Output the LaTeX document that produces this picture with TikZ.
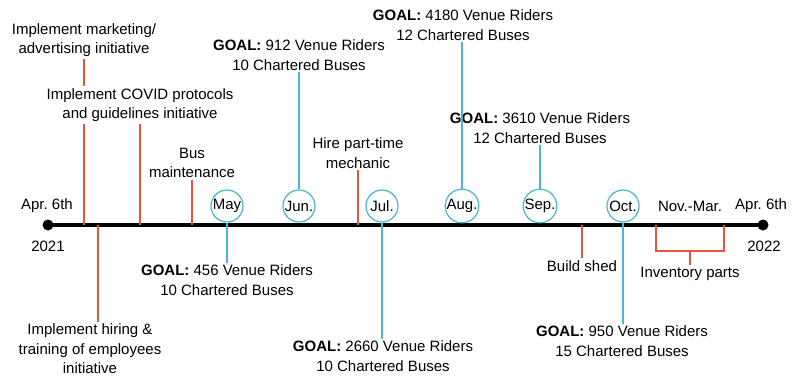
\documentclass[tikz,border=0pt]{standalone}
\usepackage{fontspec}
\setmainfont{Liberation Sans}
\usetikzlibrary{calc}
\definecolor{tlorange}{RGB}{230,84,58}
\definecolor{tlblue}{RGB}{72,183,214}
\newcommand{\goalnote}[2]{\textbf{GOAL:} #1 Venue Riders\\#2 Chartered Buses}

\begin{document}
\begin{tikzpicture}[x=1pt,y=-1pt,
    every node/.style={font=\fontsize{15}{19.5}\selectfont, align=center, inner sep=2pt},
    month/.style={circle, draw=tlblue, fill=white, line width=1.2pt, minimum size=32pt, inner sep=0pt},
    orangeline/.style={draw=tlorange, line width=1.6pt},
    blueline/.style={draw=tlblue, line width=1.2pt}]
  \useasboundingbox (0,0) rectangle (799,377);

  \coordinate (a0) at (48,225);
  \coordinate (a1) at (763,225);
  \draw[line width=3.4pt] (a0) -- (a1);
  \fill (a0) circle (5.5pt);
  \fill (a1) circle (5.5pt);

  \node (start) at (47,206) {Apr.\ 6th};
  \node (y21) at (48,246) {2021};
  \node (nm) at (690,206) {Nov.-Mar.};
  \node (end) at (761,206) {Apr.\ 6th};
  \node (y22) at (764,246) {2022};

  % months
  \node[month] (may) at (227,206) {May};
  \node[month] (jun) at (299,206) {Jun.};
  \node[month] (jul) at (382,206) {Jul.};
  \node[month] (aug) at (462,206) {Aug.};
  \node[month] (sep) at (540,206) {Sep.};
  \node[month] (oct) at (623,206) {Oct.};

  % goals
  \node (g456) at (227,280) {\goalnote{456}{10}};
  \node (g912) at (299,55) {\goalnote{912}{10}};
  \node (g2660) at (383,356) {\goalnote{2660}{10}};
  \node (g4180) at (463,25) {\goalnote{4180}{12}};
  \node (g3610) at (540,128) {\goalnote{3610}{12}};
  \node (g950) at (622,341) {\goalnote{950}{15}};

  \draw[blueline] (may.south) -- (may.south |- g456.north);
  \draw[blueline] (jun.north) -- (jun.north |- g912.south);
  \draw[blueline] (jul.south) -- (jul.south |- g2660.north);
  \draw[blueline] (aug.north) -- (aug.north |- g4180.south);
  \draw[blueline] (sep.north) -- (sep.north |- g3610.south);
  \draw[blueline] (oct.south) -- (oct.south |- g950.north);

  % tasks
  \node (mkt) at (84,40) {Implement marketing/\\advertising initiative};
  \node (covid) at (140,105) {Implement COVID protocols\\and guidelines initiative};
  \node (bus) at (192,163) {Bus\\maintenance};
  \node (mech) at (358,153) {Hire part-time\\mechanic};
  \node (hire) at (90,349) {Implement hiring \&\\training of employees\\initiative};
  \node (shed) at (582,266) {Build shed};
  \node (inv) at (690,274) {Inventory parts};

  \draw[orangeline] (mkt.south) -- (mkt.south |- covid.north);
  \draw[orangeline] (mkt.south |- covid.south) -- (mkt.south |- a0);
  \draw[orangeline] (covid.south) -- (covid.south |- a0);
  \draw[orangeline] (bus.south) -- (bus.south |- a0);
  \draw[orangeline] (mech.south) -- (mech.south |- a0);

  \coordinate (h) at (98,225);
  \draw[orangeline] (h) -- (h |- hire.north);
  \draw[orangeline] (shed.north |- a0) -- (shed.north);

  \coordinate (i0) at (656,225);
  \coordinate (i1) at (724,225);
  \coordinate (ib) at ($(i0)!0.5!(i1)+(0,26)$);
  \draw[orangeline] (i0) -- (i0 |- ib) -- (i1 |- ib) -- (i1);
  \draw[orangeline] (ib) -- (inv.north);
\end{tikzpicture}
\end{document}
